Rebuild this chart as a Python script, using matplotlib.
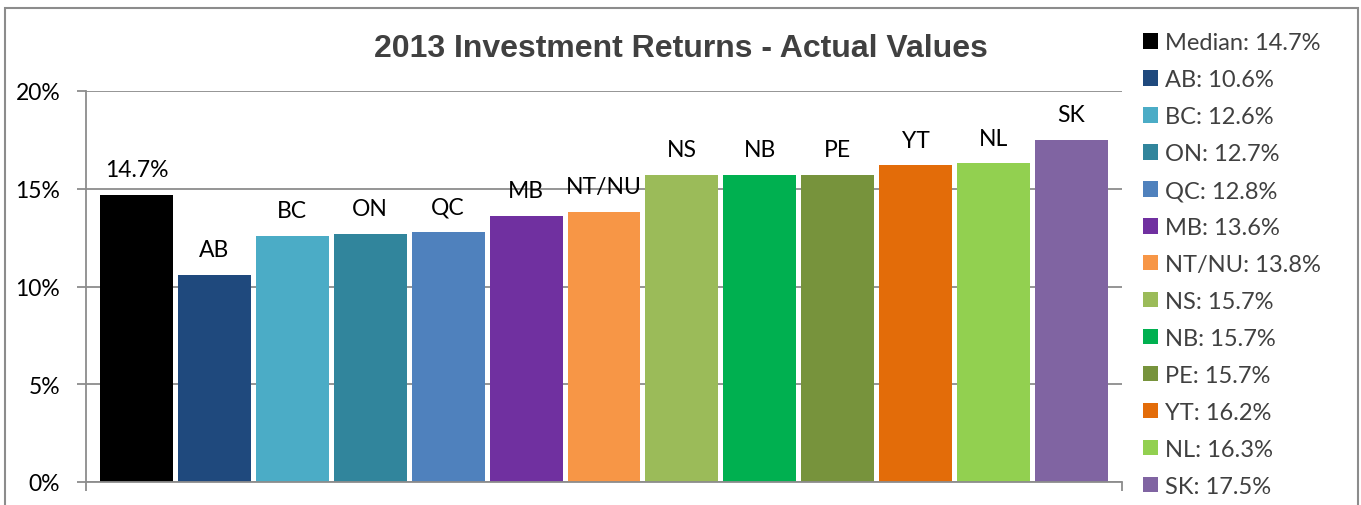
import numpy as np
import matplotlib
matplotlib.use("Agg")
import matplotlib.pyplot as plt
from matplotlib.patches import Patch, Rectangle

plt.rcParams['font.family'] = ['Lato', 'DejaVu Sans']

names = ["Median", "AB", "BC", "ON", "QC", "MB", "NT/NU", "NS", "NB", "PE", "YT", "NL", "SK"]
returns = [14.7, 10.6, 12.6, 12.7, 12.8, 13.6, 13.8, 15.7, 15.7, 15.7, 16.2, 16.3, 17.5]
colors = ["#000000", "#1F497D", "#4BACC6", "#31859C", "#4F81BD", "#7030A0", "#F79646",
          "#9BBB59", "#00B050", "#77933C", "#E36C09", "#92D050", "#8064A2"]
yticks = [0, 5, 10, 15, 20]

W, H = 1361, 506
fig = plt.figure(figsize=(W / 100, H / 100), dpi=100)
ax = fig.add_axes([86 / W, 1 - 483 / H, (1122 - 86) / W, (483 - 92) / H])

x = np.arange(len(names))
ax.bar(x, returns, width=0.935, color=colors, zorder=2)

# labels over bars (median shows its value)
for i in range(len(names)):
    txt = f"{returns[i]}%" if names[i] == "Median" else names[i]
    ax.annotate(txt, (x[i], returns[i]), xytext=(0, 13.5), textcoords="offset points",
                ha="center", va="baseline", fontsize=16.5, color="black")

ax.set_ylim(0, 20)
ax.set_xlim(-0.5 - 11.5 / 78, len(names) - 0.5 + 11.5 / 78)
ax.set_yticks(yticks)
ax.set_yticklabels([f"{t}%" for t in yticks], fontsize=16.5)
ax.set_xticks(ax.get_xlim())
ax.set_xticklabels([])
ax.tick_params(axis="y", length=6.5, width=1.3, color="#8c8c8c", pad=12)
ax.tick_params(axis="x", length=6.5, width=1.3, color="#8c8c8c")
ax.yaxis.grid(True, color="#8c8c8c", linewidth=1.3, zorder=0)
ax.set_axisbelow(True)
for s in ["top", "right"]:
    ax.spines[s].set_visible(False)
for s in ["left", "bottom"]:
    ax.spines[s].set_color("#8c8c8c")
    ax.spines[s].set_linewidth(1.3)

fig.text(681 / W, 1 - 49 / H, "2013 Investment Returns - Actual Values", ha="center", va="center",
         fontsize=23, fontweight="bold", color="#404040", family=["Liberation Sans", "DejaVu Sans"])

handles = [Patch(facecolor=c, edgecolor="none") for c in colors]
labels = [f"{n}: {v}%" for n, v in zip(names, returns)]
fig.legend(handles, labels, loc="upper left", bbox_to_anchor=(1134 / W, 1 - 24 / H),
           frameon=False, fontsize=17, handlelength=0.63, handleheight=0.63,
           handletextpad=0.3, labelspacing=0.675, labelcolor="#404040", borderaxespad=0)

# outer chart border
fig.patches.append(Rectangle((5 / W, -0.1), (1358 - 5) / W, 1.1 - 9 / H, transform=fig.transFigure,
                             fill=False, edgecolor="#8c8c8c", linewidth=1.5))

fig.savefig("out.png", dpi=100)
